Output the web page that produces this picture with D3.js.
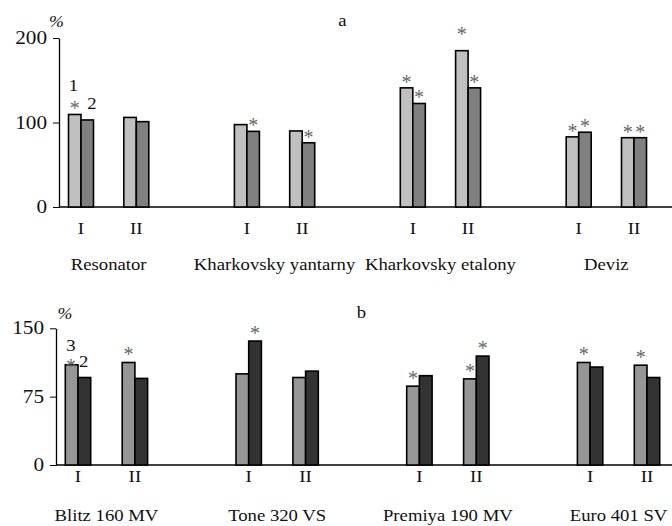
<!DOCTYPE html>
<html><head><meta charset="utf-8">
<script src="https://cdn.jsdelivr.net/npm/d3@7"></script>
</head><body style="margin:0;background:#fff"><svg id="c" width="672" height="526" style="display:block"></svg>
<script>
// ---- data ----
const slotsA = ["Resonator|I","Resonator|II","gap1","Kharkovsky yantarny|I","Kharkovsky yantarny|II","gap2","Kharkovsky etalony|I","Kharkovsky etalony|II","gap3","Deviz|I","Deviz|II","gap4"];
const groupsA = ["Resonator","Kharkovsky yantarny","Kharkovsky etalony","Deviz"];
const series1A = [109.5,106,97.5,90,141,185,83,82];   // light bars (1)
const series2A = [103,101,89.5,76,122.5,141,88.5,82];  // dark bars (2)
const star1A = [1,0,0,0,1,1,1,1];
const star2A = [0,0,1,1,1,1,1,1];
const ticksA = [0,100,200];

const slotsB = ["Blitz 160 MV|I","Blitz 160 MV|II","gap1","Tone 320 VS|I","Tone 320 VS|II","gap2","Premiya 190 MV|I","Premiya 190 MV|II","gap3","Euro 401 SV|I","Euro 401 SV|II","gap4"];
const groupsB = ["Blitz 160 MV","Tone 320 VS","Premiya 190 MV","Euro 401 SV"];
const series3B = [110,112.5,100,96,86.5,94.5,112.5,109.5]; // light bars (3)
const series2B = [96,95,136,103,98,119.5,107.5,96];       // dark bars (2)
const star3B = [0,1,0,0,1,1,1,1];
const star2B = [0,0,1,0,0,1,0,0];
const ticksB = [0,75,150];

const FONT = "Liberation Serif, Tinos, serif";
const svg = d3.select("#c");
// text helper: place at (x,y) with a slight horizontal stretch like the source figure
function label(parent, x, y, s, size, sx, anchor, fill){
  return parent.append("text")
    .attr("transform",`translate(${x},${y}) scale(${sx},1)`)
    .attr("text-anchor",anchor||"middle")
    .attr("font-family",FONT).attr("font-size",size)
    .attr("fill",fill||"#111").text(s);
}

function panel(cfg){
  const g = svg.append("g");
  const x = d3.scaleBand().domain(cfg.slots).range([cfg.x0, cfg.x0 + cfg.step*cfg.slots.length]).padding(0);
  const y = d3.scaleLinear().domain([0, cfg.ymax]).range([cfg.yb, cfg.yt]);
  const bw = cfg.bw;
  const ya = g.append("g").attr("transform",`translate(${cfg.ax},0)`)
    .call(d3.axisLeft(y).tickValues(cfg.ticks).tickSize(6).tickSizeOuter(0).tickPadding(6));
  ya.select(".domain").attr("stroke","#000").attr("stroke-width",1.3);
  ya.selectAll(".tick line").attr("stroke","#000").attr("stroke-width",1);
  ya.selectAll(".tick text").remove();
  cfg.ticks.forEach(t=>label(g, cfg.ax-12, y(t)+6, String(t), 18, 1.18, "end"));
  g.append("line").attr("x1",cfg.ax).attr("x2",672).attr("y1",y(0)).attr("y2",y(0)).attr("stroke","#000").attr("stroke-width",1.3);
  const keys = cfg.slots.filter(s=>!s.startsWith("gap"));
  const cx = k => x(k) + x.bandwidth()/2;
  const recs = keys.map((k,i)=>({k,i,a:cfg.s1[i],b:cfg.s2[i],sa:cfg.st1[i],sb:cfg.st2[i]}));
  g.selectAll(".b1").data(recs).join("rect")
    .attr("x",d=>cx(d.k)-bw).attr("width",bw).attr("y",d=>y(d.a)).attr("height",d=>y(0)-y(d.a))
    .attr("fill",cfg.c1).attr("stroke","#000").attr("stroke-width",1.6);
  g.selectAll(".b2").data(recs).join("rect")
    .attr("x",d=>cx(d.k)).attr("width",bw).attr("y",d=>y(d.b)).attr("height",d=>y(0)-y(d.b))
    .attr("fill",cfg.c2).attr("stroke","#000").attr("stroke-width",1.6);
  recs.forEach(d=>{
    if(d.sa) label(g, cx(d.k)-bw/2, y(d.a)+10-cfg.gap-(d.a>170?11:0), "*", 20, 1, "middle", "#666");
    if(d.sb) label(g, cx(d.k)+bw/2, y(d.b)+10-cfg.gap, "*", 20, 1, "middle", "#666");
  });
  recs.forEach(d=>label(g, cx(d.k), cfg.romY, d.k.split("|")[1], 16, 1.18));
  cfg.groups.forEach(gn=>{
    const c = (cx(gn+"|I")+cx(gn+"|II"))/2;
    label(g, c, cfg.grpY, gn, 17, 1.1);
  });
}

panel({slots:slotsA,groups:groupsA,s1:series1A,s2:series2A,st1:star1A,st2:star2A,ticks:ticksA,ymax:200,
  x0:53.35,step:55.3,yb:207,yt:38,ax:59,bw:12.5,c1:"#c0c0c0",c2:"#808080",romY:234,grpY:270,gap:9});
panel({slots:slotsB,groups:groupsB,s1:series3B,s2:series2B,st1:star3B,st2:star2B,ticks:ticksB,ymax:150,
  x0:49.55,step:56.9,yb:465,yt:328.3,ax:56,bw:12.7,c1:"#969696",c2:"#333333",romY:482,grpY:521,gap:11});

label(svg, 56.5, 27, "%", 17, 1.05).attr("font-style","italic");
label(svg, 342.5, 26, "a", 17, 1.1);
label(svg, 65, 319, "%", 17, 1.05).attr("font-style","italic");
label(svg, 361.5, 318, "b", 17, 1.1);
label(svg, 73.5, 91, "1", 17, 1.1);
label(svg, 92, 109, "2", 17, 1.1);
label(svg, 71, 351, "3", 17, 1.1);
label(svg, 71, 373, "*", 20, 1, "middle", "#666");
label(svg, 83.7, 367, "2", 17, 1.1);
</script></body></html>
